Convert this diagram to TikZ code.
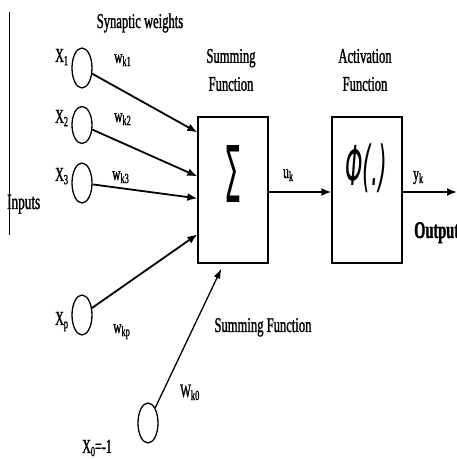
\documentclass[tikz,border=0pt]{standalone}
\usepackage{fontspec}
\setmainfont{Liberation Serif}[FakeStretch=0.6,FakeBold=1.2]
\newfontfamily\dvs{DejaVu Sans}
\usetikzlibrary{arrows.meta,shapes.geometric,calc}
\newcommand\lo[1]{\raisebox{-0.35ex}{\fontsize{14}{14}\selectfont #1}}
\begin{document}
\begin{tikzpicture}[x=1pt,y=1pt,
  lbl/.style={inner sep=0pt, font=\fontsize{21}{28}\selectfont, align=center},
  xlbl/.style={inner sep=0pt, anchor=base west, font=\fontsize{20}{20}\selectfont},
  wlbl/.style={inner sep=0pt, anchor=base west, font=\fontsize{19}{19}\selectfont},
  neuron/.style={ellipse, draw, line width=1.3pt, minimum width=20pt, minimum height=40pt, inner sep=0pt},
  fbox/.style={draw, line width=1.3pt, minimum width=70pt, minimum height=146pt, inner sep=0pt},
  arr/.style={-{Latex[length=10pt,width=8pt]}, line width=1.8pt},
  thinarr/.style={-{Latex[length=10pt,width=7pt]}, line width=1.3pt},
]
\useasboundingbox (0,0) rectangle (457,459);
% left bracket line
\draw[line width=1pt] (9,447) -- (9,224);
% boxes
\node[fbox] (sum) at (233,269) {};
\node[fbox] (act) at (367,269) {};
\node (sigma) at (233,285) {\resizebox{17pt}{57pt}{\dvs Σ}};
\node (phi) at (366,291) {\resizebox*{42pt}{49pt}{\dvs\itshape Φ(.)}};
% neurons
\node[neuron] (c1) at (82,391) {};
\node[neuron, minimum height=37pt] (c2) at (82,334) {};
\node[neuron] (c3) at (82,276) {};
\node[neuron] (cp) at (82,144) {};
\node[neuron] (b0) at (148,36) {};
% targets on the summing box
\coordinate (t1) at ([yshift=-16pt]sum.north west);
\coordinate (t2) at ([yshift=-60pt]sum.north west);
\coordinate (t3) at ([yshift=-82pt]sum.north west);
\coordinate (tp) at ([yshift=-118pt]sum.north west);
\coordinate (t0) at ([shift={(24pt,-5pt)}]sum.south west);
\coordinate (out) at (457,267);
% connectors
\draw[arr] (c1) -- (t1);
\draw[arr] (c2) -- (t2);
\draw[arr] (c3) -- (t3);
\draw[arr] (cp) -- (tp);
\draw[thinarr] (b0) -- (t0);
\draw[arr] ([yshift=-2pt]sum.east) -- ([yshift=-2pt]act.west);
\draw[arr] ([yshift=-2pt]act.east) -- (out);
% labels
\node[lbl, anchor=base] (syn) at (140,431) {Synaptic weights};
\node[lbl] (suml) at (231,389) {Summing\\Function};
\node[lbl] (actl) at (365,389) {Activation\\Function};
\node[lbl, anchor=base west, font=\fontsize{22}{22}\selectfont] (inp) at (7,250) {Inputs};
\node[xlbl] (x1) at (55,397) {X\lo{1}};
\node[xlbl] (x2) at (55,336) {X\lo{2}};
\node[xlbl] (x3) at (55,278) {X\lo{3}};
\node[xlbl] (xp) at (55,134) {X\lo{p}};
\node[xlbl] (x0) at (82,6) {X\lo{0}=-1};
\node[wlbl] (w1) at (114,396) {w\lo{k1}};
\node[wlbl] (w2) at (114,337) {w\lo{k2}};
\node[wlbl] (w3) at (112,279) {w\lo{k3}};
\node[wlbl] (wp) at (113,126) {w\lo{kp}};
\node[wlbl] (w0) at (180,62) {W\lo{k0}};
\node[wlbl] (uk) at (283,281) {u\lo{k}};
\node[wlbl] (yk) at (413,279) {y\lo{k}};
\node[lbl, anchor=base west, font=\fontsize{24}{24}\selectfont\bfseries] (outl) at (414,221) {Output};
\node[lbl, anchor=base] (suml2) at (263,127) {Summing Function};
\end{tikzpicture}
\end{document}
